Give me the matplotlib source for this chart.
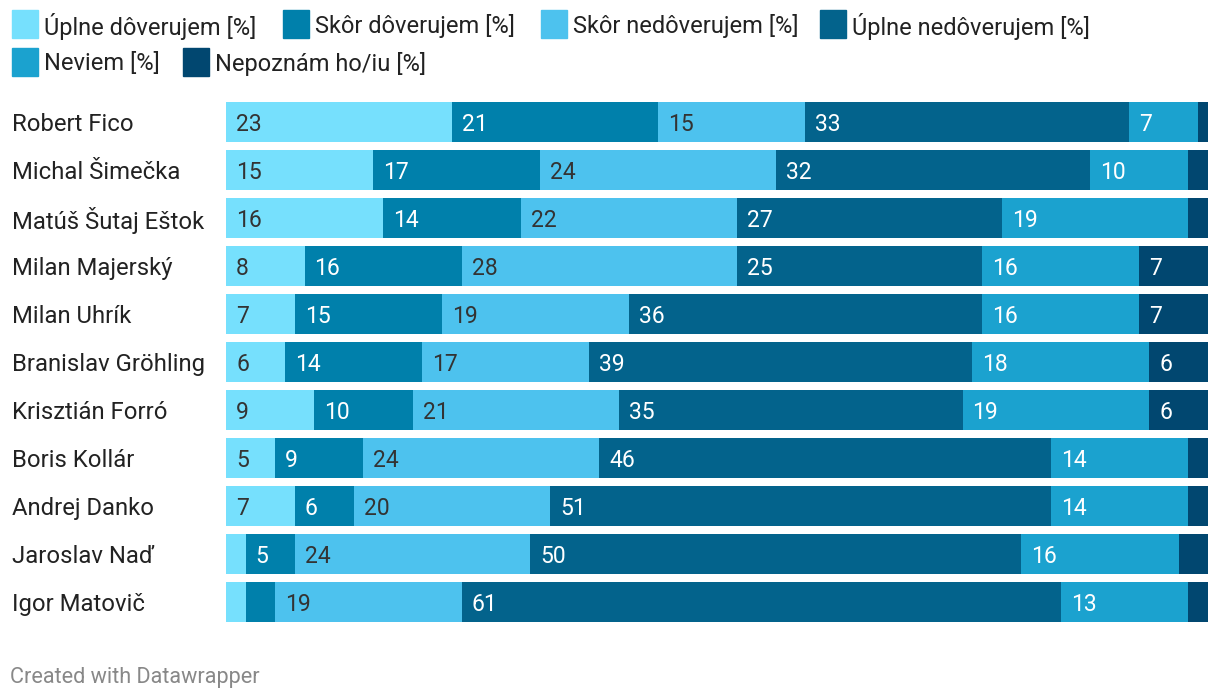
import numpy as np
import matplotlib.pyplot as plt
import matplotlib.transforms as mtransforms
from matplotlib.patches import Rectangle

plt.rcParams['font.family'] = ['Roboto', 'DejaVu Sans']

# data
names = ["Robert Fico", "Michal Šimečka", "Matúš Šutaj Eštok", "Milan Majerský",
         "Milan Uhrík", "Branislav Gröhling", "Krisztián Forró", "Boris Kollár",
         "Andrej Danko", "Jaroslav Naď", "Igor Matovič"]
series = ["Úplne dôverujem [%]", "Skôr dôverujem [%]", "Skôr nedôverujem [%]",
          "Úplne nedôverujem [%]", "Neviem [%]", "Nepoznám ho/iu [%]"]
uplne_doverujem = [23, 15, 16, 8, 7, 6, 9, 5, 7, 2, 2]
skor_doverujem = [21, 17, 14, 16, 15, 14, 10, 9, 6, 5, 3]
skor_nedoverujem = [15, 24, 22, 28, 19, 17, 21, 24, 20, 24, 19]
uplne_nedoverujem = [33, 32, 27, 25, 36, 39, 35, 46, 51, 50, 61]
neviem = [7, 10, 19, 16, 16, 18, 19, 14, 14, 16, 13]
nepoznam = [1, 2, 2, 7, 7, 6, 6, 2, 2, 3, 2]

colors = ["#76e0fd", "#0080ab", "#4dc2ee", "#03638c", "#1ba2cf", "#014770"]
text_colors = ["#333333", "white", "#333333", "white", "white", "white"]

W, H = 1220, 700
fig = plt.figure(figsize=(W / 100, H / 100), dpi=100)
ax = fig.add_axes([226 / W, 1 - 626 / H, (1208 - 226) / W, 528 / H])

data = [uplne_doverujem, skor_doverujem, skor_nedoverujem,
        uplne_nedoverujem, neviem, nepoznam]
y = np.arange(len(names))
left = np.zeros(len(names))
for vals, col, tcol in zip(data, colors, text_colors):
    vals = np.array(vals, dtype=float)
    ax.barh(y, vals, left=left, height=40 / 48, color=col, edgecolor='none')
    for yi, l, v in zip(y, left, vals):
        if v >= 4:
            ax.annotate(f"{int(v)}", (l, yi), xytext=(7.2, -1.5), textcoords='offset points',
                        ha='left', va='center', fontsize=16.5, color=tcol)
    left += vals

ax.set_xlim(0, 100)
ax.set_ylim(len(names) - 0.5, -0.5)
ax.axis('off')

# category names on the left
trans = mtransforms.blended_transform_factory(fig.transFigure, ax.transData)
for yi, n in zip(y, names):
    ax.annotate(n, (12 / W, yi), xycoords=trans, xytext=(0, -1.5),
                textcoords='offset points', ha='left', va='center',
                fontsize=17.2, color='#222222')

# legend
leg_pos = [(12, 24), (283, 24), (541, 24), (820, 24), (12, 62), (183, 62)]
for (lx, ly), lab, col in zip(leg_pos, series, colors):
    fig.patches.append(Rectangle((lx / W, 1 - (ly + 14) / H), 26 / W, 28 / H,
                                 transform=fig.transFigure, color=col))
    fig.text((lx + 32) / W, 1 - (ly + 2) / H, lab, ha='left', va='center',
             fontsize=17, color='#222222')

fig.text(10 / W, 1 - 677 / H, "Created with Datawrapper", ha='left', va='center',
         fontsize=15.6, color='#888888')

fig.savefig("out.png", dpi=100, facecolor='white')
